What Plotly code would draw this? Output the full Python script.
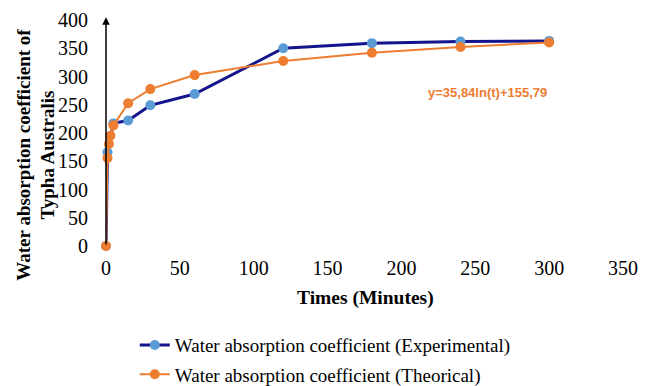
import plotly.graph_objects as go

t_exp = [0, 1, 5, 15, 30, 60, 120, 180, 240, 300]
y_exp = [0, 166, 217, 222, 249, 269, 350, 359, 362, 363]

t_th = [0, 1, 2, 3, 5, 15, 30, 60, 120, 180, 240, 300]
y_th = [0, 155.8, 180.6, 195.2, 213.5, 252.8, 277.7, 302.5, 327.4, 341.9, 352.2, 360.2]

x_ticks = [0, 50, 100, 150, 200, 250, 300, 350]
y_ticks = [0, 50, 100, 150, 200, 250, 300, 350, 400]

name_exp = "Water absorption coefficient (Experimental)"
name_th = "Water absorption coefficient (Theorical)"
equation = "y=35,84ln(t)+155,79"

SERIF = "Liberation Serif, Times New Roman, serif"
BLUE_LINE = "#14148c"
BLUE_MARK = "#5b9bd5"
ORANGE = "#ed7d31"

fig = go.Figure()
fig.add_trace(go.Scatter(
    x=t_exp, y=y_exp, name=name_exp, mode="lines+markers",
    line=dict(color=BLUE_LINE, width=3),
    marker=dict(color=BLUE_MARK, size=10),
    cliponaxis=False, legend="legend", showlegend=True))
fig.add_trace(go.Scatter(
    x=t_th, y=y_th, name=name_th, mode="lines+markers",
    line=dict(color=ORANGE, width=2),
    marker=dict(color=ORANGE, size=10),
    cliponaxis=False, legend="legend2", showlegend=True))

# axis arrows
fig.add_annotation(x=352, y=0, ax=-4, ay=0, xref="x", yref="y", axref="x", ayref="y",
                   showarrow=True, arrowhead=2, arrowsize=1, arrowwidth=1.5, arrowcolor="black", text="")
fig.add_annotation(x=0, y=405, ax=0, ay=0, xref="x", yref="y", axref="x", ayref="y",
                   showarrow=True, arrowhead=2, arrowsize=1, arrowwidth=1.5, arrowcolor="black", text="")

# equation
fig.add_annotation(x=258, y=271, xref="x", yref="y", text="<b>" + equation + "</b>",
                   showarrow=False, font=dict(family="Liberation Sans, Arial", size=13, color=ORANGE))

# titles
fig.add_annotation(x=-0.135, y=0.405, xref="paper", yref="paper", textangle=-90,
                   xanchor="center", yanchor="middle",
                   text="<b>Water absorption coefficient of<br>Typha Australis</b>",
                   showarrow=False, font=dict(family=SERIF, size=19, color="black"))
fig.add_annotation(x=0.501, y=-0.23, xref="paper", yref="paper",
                   xanchor="center", yanchor="middle",
                   text="<b>Times (Minutes)</b>", showarrow=False,
                   font=dict(family=SERIF, size=19.5, color="black"))

fig.update_layout(
    width=648, height=386, showlegend=True,
    margin=dict(l=106, r=25, t=20, b=140, autoexpand=False),
    paper_bgcolor="white", plot_bgcolor="white",
    font=dict(family=SERIF, size=20, color="black"),
    xaxis=dict(range=[0, 350], tickvals=x_ticks, showgrid=False, zeroline=False,
               showline=False, ticks="", ticklabelstandoff=8, automargin=False,
               tickfont=dict(family=SERIF, size=20)),
    yaxis=dict(range=[0, 400], tickvals=y_ticks, showgrid=False, zeroline=False,
               showline=False, ticks="", ticklabelstandoff=17, automargin=False,
               tickfont=dict(family=SERIF, size=20)),
    legend=dict(x=0.208, y=0.106, xref="container", yref="container",
                xanchor="left", yanchor="middle", visible=True,
                font=dict(family=SERIF, size=19), bgcolor="rgba(0,0,0,0)"),
    legend2=dict(x=0.208, y=0.03, xref="container", yref="container",
                 xanchor="left", yanchor="middle", visible=True,
                 font=dict(family=SERIF, size=19), bgcolor="rgba(0,0,0,0)"),
)

fig.write_html("out.html")
